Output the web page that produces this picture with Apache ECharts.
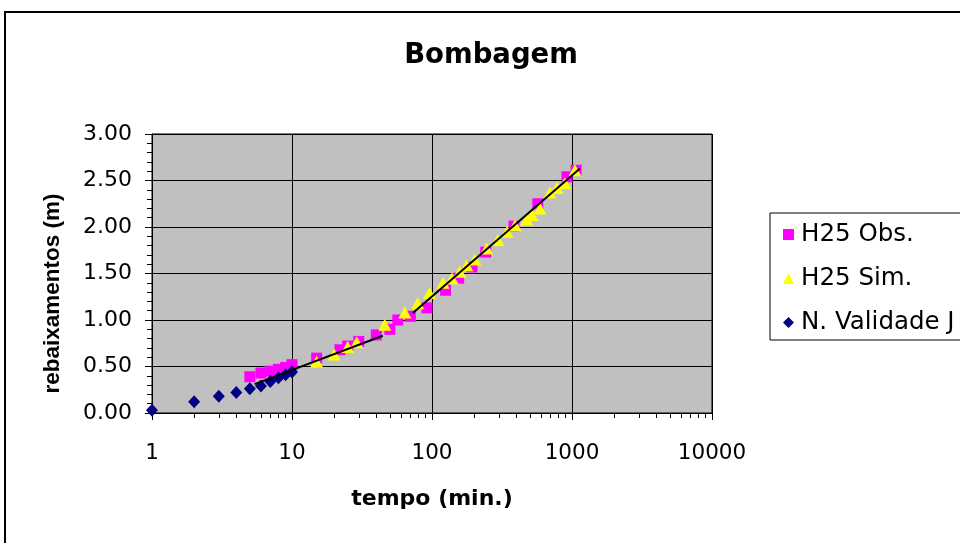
<!DOCTYPE html>
<html>
<head>
<meta charset="utf-8">
<title>Bombagem</title>
<script src="https://cdn.jsdelivr.net/npm/echarts@6/dist/echarts.min.js"></script>
<style>
  html, body { margin: 0; padding: 0; background: #ffffff; }
  #chart { width: 960px; height: 543px; }
</style>
</head>
<body>
<div id="chart"></div>
<script>
// Pumping test drawdowns, time in minutes, drawdown in metres
const obsTime = [5, 6, 7, 8, 9, 10, 15, 22, 25, 30, 40, 50, 57, 70, 92, 125, 155, 193, 242, 385, 570, 920, 1070];
const obsDrawdown = [0.39, 0.43, 0.45, 0.47, 0.49, 0.52, 0.59, 0.68, 0.72, 0.77, 0.84, 0.90, 1.00, 1.04, 1.13, 1.32, 1.45, 1.57, 1.73, 2.01, 2.25, 2.54, 2.61];

const simTime = [15, 20, 25, 29, 46, 64, 79, 96, 120, 139, 158, 177, 202, 246, 295, 343, 392, 475, 518, 590, 695, 780, 890, 1050];
const simDrawdown = [0.55, 0.63, 0.71, 0.76, 0.95, 1.08, 1.18, 1.29, 1.40, 1.45, 1.52, 1.59, 1.65, 1.77, 1.86, 1.95, 2.02, 2.08, 2.13, 2.20, 2.37, 2.42, 2.47, 2.61];

const valTime = [1, 2, 3, 4, 5, 6, 7, 8, 9, 10];
const valDrawdown = [0.03, 0.12, 0.18, 0.22, 0.26, 0.29, 0.34, 0.38, 0.41, 0.44];

// straight-line fits on the semi-log plot
const fitEarlyTime = [5.4, 44.5];
const fitEarlyDrawdown = [0.31, 0.83];
const fitLateTime = [73, 1140];
const fitLateDrawdown = [1.075, 2.63];

const seriesNames = ['H25 Obs.', 'H25 Sim.', 'N. Validade J'];
const decades = [1, 10, 100, 1000, 10000];

const FONT = '"DejaVu Sans", sans-serif';
const FONT_NARROW = '"Liberation Sans", Arial, sans-serif';

function pairs(xs, ys) {
  return xs.map((x, i) => [x, ys[i]]);
}

// minor tick positions (2..9 in every decade), in log10 units for the helper axis
const minorTickLogs = [];
for (let d = 0; d < decades.length - 1; d++) {
  for (let k = 2; k <= 9; k++) {
    minorTickLogs.push(Math.log10(decades[d] * k));
  }
}

const chart = echarts.init(document.getElementById('chart'), null, { renderer: 'canvas' });

chart.setOption({
  backgroundColor: '#ffffff',
  animation: false,
  title: {
    text: 'Bombagem',
    left: 486,
    top: 37,
    textAlign: 'center',
    textStyle: { fontFamily: FONT, fontWeight: 'bold', fontSize: 27.5, color: '#000' }
  },
  graphic: [{
    type: 'rect',
    shape: { x: 5, y: 12, width: 1000, height: 600 },
    style: { fill: 'none', stroke: '#000', lineWidth: 2 },
    silent: true,
    z: -10
  }],
  legend: {
    data: seriesNames,
    orient: 'vertical',
    left: 770,
    top: 213,
    padding: [9, 80, 5, 13],
    itemGap: 19,
    itemWidth: 11,
    itemHeight: 11,
    borderColor: '#000',
    borderWidth: 1,
    backgroundColor: '#ffffff',
    textStyle: { fontFamily: FONT, fontSize: 24.5, color: '#000', lineHeight: 24, padding: [0, 0, 0, 2] }
  },
  grid: {
    left: 152,
    right: 248,
    top: 134,
    bottom: 130,
    show: true,
    backgroundColor: '#c0c0c0',
    borderColor: '#000',
    borderWidth: 1
  },
  xAxis: [{
    type: 'log',
    logBase: 10,
    min: 1,
    max: 10000,
    name: 'tempo (min.)',
    nameLocation: 'middle',
    nameGap: 75,
    nameTextStyle: { fontFamily: FONT, fontWeight: 'bold', fontSize: 22, color: '#000' },
    axisLine: { lineStyle: { color: '#000', width: 1 } },
    axisTick: { show: true, length: 7, lineStyle: { color: '#000' } },
    axisLabel: {
      margin: 29,
      fontFamily: FONT,
      fontSize: 21.5,
      color: '#000',
      formatter: v => String(Math.round(v))
    },
    splitLine: { show: true, lineStyle: { color: '#000', width: 1 } }
  }, {
    // helper axis carrying the 2..9 minor ticks of each decade
    type: 'value',
    min: 0,
    max: 4,
    position: 'bottom',
    axisLine: { show: false },
    axisLabel: { show: false },
    splitLine: { show: false },
    axisTick: {
      show: true,
      length: 5,
      customValues: minorTickLogs,
      lineStyle: { color: '#000' }
    }
  }],
  yAxis: {
    type: 'value',
    min: 0,
    max: 3,
    interval: 0.5,
    name: 'rebaixamentos (m)',
    nameLocation: 'middle',
    nameGap: 88,
    nameTextStyle: {
      fontFamily: FONT_NARROW, fontWeight: 'bold', fontSize: 22.5, color: '#000',
      padding: [0, 40, 0, 0]
    },
    axisLine: { show: true, lineStyle: { color: '#000', width: 1 } },
    axisTick: { show: true, length: 7, lineStyle: { color: '#000' } },
    minorTick: { show: true, splitNumber: 5, length: 5, lineStyle: { color: '#000' } },
    axisLabel: {
      margin: 20,
      fontFamily: FONT,
      fontSize: 22,
      color: '#000',
      formatter: v => v.toFixed(2)
    },
    splitLine: { show: true, lineStyle: { color: '#000', width: 1 } }
  },
  series: [{
    name: seriesNames[0],
    type: 'scatter',
    symbol: 'rect',
    symbolSize: 11,
    itemStyle: { color: '#ff00ff', opacity: 1 },
    data: pairs(obsTime, obsDrawdown),
    z: 2
  }, {
    name: seriesNames[1],
    type: 'scatter',
    symbol: 'triangle',
    symbolSize: [13, 12],
    itemStyle: { color: '#ffff00', opacity: 1 },
    data: pairs(simTime, simDrawdown),
    z: 3
  }, {
    name: seriesNames[2],
    type: 'scatter',
    symbol: 'diamond',
    symbolSize: [12, 13],
    itemStyle: { color: '#000080', opacity: 1 },
    data: pairs(valTime, valDrawdown),
    z: 4
  }, {
    type: 'line',
    symbol: 'none',
    lineStyle: { color: '#000', width: 2 },
    data: pairs(fitEarlyTime, fitEarlyDrawdown),
    z: 5
  }, {
    type: 'line',
    symbol: 'none',
    lineStyle: { color: '#000', width: 2 },
    data: pairs(fitLateTime, fitLateDrawdown),
    z: 5
  }]
});
</script>
</body>
</html>
